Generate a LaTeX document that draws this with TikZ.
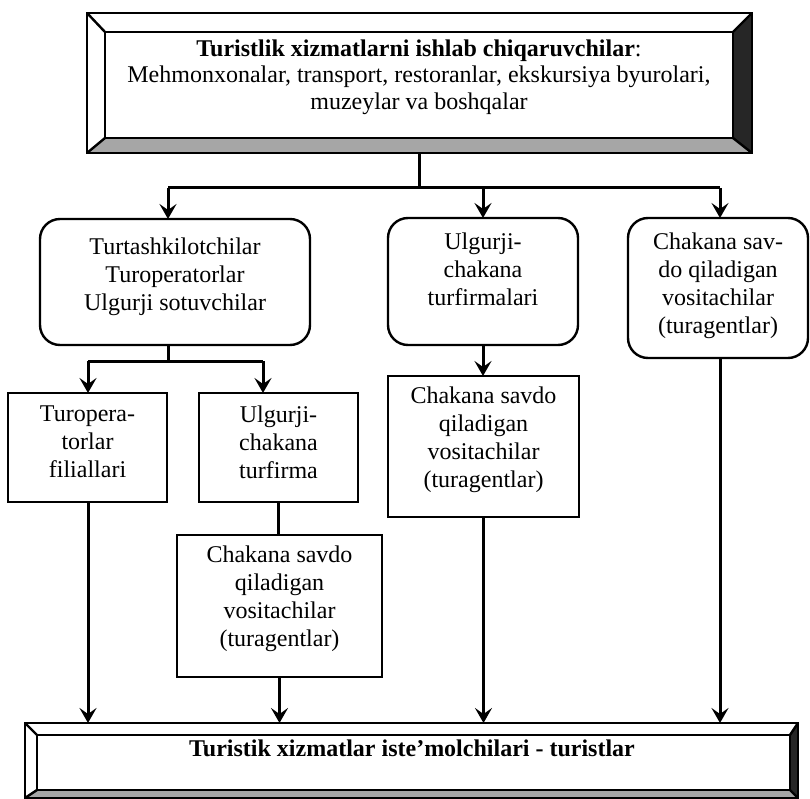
\documentclass[tikz,border=0pt]{standalone}
\usepackage{fontspec}
\setmainfont{Liberation Serif}
\usetikzlibrary{arrows.meta,calc}
\begin{document}
\begin{tikzpicture}[x=1pt,y=-1pt,
  line width=2.4pt,
  every node/.style={font=\fontsize{24}{28}\selectfont, outer sep=0pt},
  txt/.style={align=center, inner sep=0pt},
  rbox/.style={draw, rounded corners=20pt, inner sep=0pt},
  sbox/.style={draw, inner sep=0pt},
  frame/.style={inner sep=0pt},
  link/.style={line width=3pt},
  arr/.style={link, -{Stealth[length=15pt,width=17pt,inset=6pt]}},
  dark/.style={fill=black!85},
  light/.style={fill=black!35},
]
\useasboundingbox (0,0) rectangle (810,799);

% ---- bevelled header frame ----
\node[frame, minimum width=665pt, minimum height=140pt] (top) at (419.5,83) {};
\node[frame, minimum width=628pt, minimum height=106pt] (topin) at (419,85) {};
\fill[dark] (top.north east) -- (top.south east) -- (topin.south east) -- (topin.north east) -- cycle;
\fill[light] (top.south west) -- (top.south east) -- (topin.south east) -- (topin.south west) -- cycle;
\draw (top.north west) rectangle (top.south east);
\draw (topin.north west) rectangle (topin.south east);
\foreach \c in {north west, north east, south west, south east} \draw (top.\c) -- (topin.\c);
\node[txt, font=\fontsize{24}{26.5}\selectfont] (toptxt) at (419,77) {\textbf{Turistlik xizmatlarni ishlab chiqaruvchilar}:\\
  Mehmonxonalar, transport, restoranlar, ekskursiya byurolari,\\
  muzeylar va boshqalar};

% ---- bevelled footer frame ----
\node[frame, minimum width=773pt, minimum height=75pt] (bot) at (411.5,760.5) {};
\node[frame, minimum width=753pt, minimum height=55pt] (botin) at (413.5,762.5) {};
\fill[dark] (bot.north east) -- (bot.south east) -- (botin.south east) -- (botin.north east) -- cycle;
\fill[light] (bot.south west) -- (bot.south east) -- (botin.south east) -- (botin.south west) -- cycle;
\draw (bot.north west) rectangle (bot.south east);
\draw (botin.north west) rectangle (botin.south east);
\foreach \c in {north west, north east, south west, south east} \draw (bot.\c) -- (botin.\c);
\node[txt] (bottxt) at (412,748) {\textbf{Turistik xizmatlar iste’molchilari - turistlar}};

% ---- first level ----
\node[rbox, minimum width=270pt, minimum height=126pt] (b1) at (175,282) {};
\node[txt] (b1t) at (175,277) {Turtashkilotchilar\\Turoperatorlar\\Ulgurji sotuvchilar};
\node[rbox, minimum width=190pt, minimum height=127pt] (b2) at (483,281.5) {};
\node[txt] (b2t) at (483,269) {Ulgurji-\\chakana\\turfirmalari};
\node[rbox, minimum width=180pt, minimum height=140pt] (b3) at (718,288) {};
\node[txt] (b3t) at (718,286) {Chakana sav-\\do qiladigan\\vositachilar\\(turagentlar)};

% ---- second level ----
\node[sbox, minimum width=159pt, minimum height=109pt] (b4) at (87.5,447.5) {};
\node[txt] (b4t) at (87.5,442) {Turopera-\\torlar\\filiallari};
\node[sbox, minimum width=159pt, minimum height=109pt] (b5) at (278.5,447.5) {};
\node[txt] (b5t) at (278.5,442) {Ulgurji-\\chakana\\turfirma};
\node[sbox, minimum width=191pt, minimum height=141pt] (b7) at (483.5,446.5) {};
\node[txt] (b7t) at (483.5,440) {Chakana savdo\\qiladigan\\vositachilar\\(turagentlar)};

% ---- third level ----
\node[sbox, minimum width=205pt, minimum height=142pt] (b6) at (279.5,606) {};
\node[txt] (b6t) at (279.5,599) {Chakana savdo\\qiladigan\\vositachilar\\(turagentlar)};

% ---- junction points ----
\coordinate (jt) at (419.5,188);
\coordinate (j1) at (168,188);
\coordinate (j2) at (483,188);
\coordinate (j3) at (720,188);
\coordinate (jb) at (168,361);
\coordinate (j4) at (88,361);
\coordinate (j5) at (263,361);

% ---- connectors ----
\draw[link] (top.south) -- (jt);
\draw[link] (j1) -- (j3);
\draw[arr] (j1) -- (j1 |- b1.north);
\draw[arr] (j2) -- (b2.north);
\draw[arr] (j3) -- (j3 |- b3.north);

\draw[link] (jb |- b1.south) -- (jb);
\draw[link] (j4) -- (j5);
\draw[arr] (j4) -- (j4 |- b4.north);
\draw[arr] (j5) -- (j5 |- b5.north);

\draw[link] (b5.south) -- (b5.south |- b6.north);
\draw[arr] (b2.south) -- (b2.south |- b7.north);

\draw[arr] (j4 |- b4.south) -- (j4 |- bot.north);
\draw[arr] (b6.south) -- (b6.south |- bot.north);
\draw[arr] (b7.south) -- (b7.south |- bot.north);
\draw[arr] (j3 |- b3.south) -- (j3 |- bot.north);
\end{tikzpicture}
\end{document}
